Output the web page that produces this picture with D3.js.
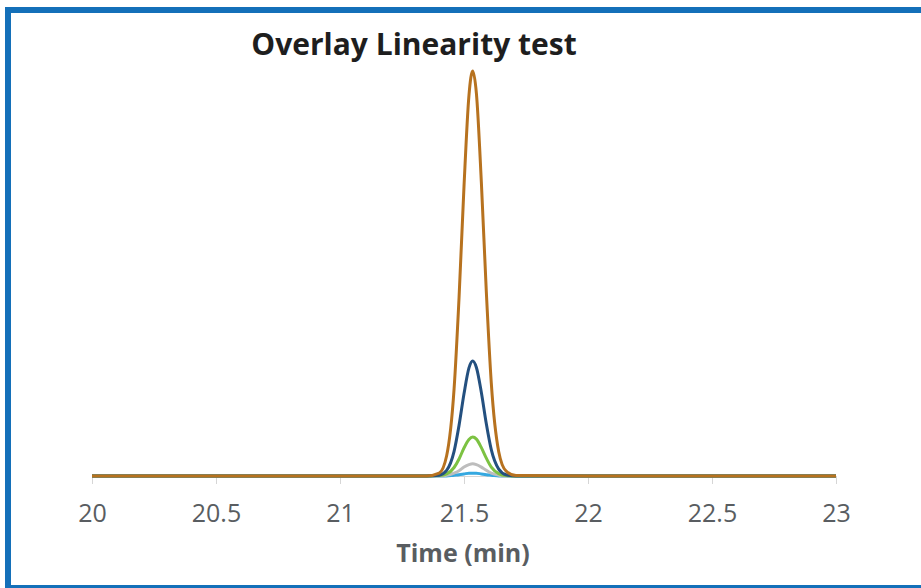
<html>
<head>
<meta charset="utf-8">
<style>
  body { margin: 0; background: white; }
  text { font-family: "Open Sans", sans-serif; }
</style>
</head>
<body>
<svg id="chart" width="921" height="588"></svg>

<script src="https://d3js.org/d3.v7.min.js"></script>
<script>
// retention time (min) sampled across the run
var time = [20, 21.0, 21.35, 21.40, 21.43, 21.46, 21.48, 21.50, 21.52, 21.535, 21.55, 21.57, 21.59, 21.61, 21.64, 21.67, 21.71, 22.0, 23];

// detector response for each concentration level
var level1 = [0, 0, 0, 0, 0, 2, 3, 5, 7, 7, 7, 5, 3, 2, 0, 0, 0, 0, 0];
var level2 = [0, 0, 0, 0, 2, 7, 13, 22, 28, 30, 28, 22, 14, 7, 2, 0, 0, 0, 0];
var level3 = [0, 0, 0, 1, 5, 21, 42, 69, 90, 96, 91, 70, 44, 22, 6, 1, 0, 0, 0];
var level4 = [0, 0, 0, 2, 14, 61, 125, 203, 267, 284, 268, 206, 129, 65, 17, 3, 0, 0, 0];
var level5 = [0, 0, 0, 7, 50, 215, 440, 715, 940, 1000, 945, 725, 455, 230, 60, 12, 1, 0, 0];

var seriesNames = ["level1", "level2", "level3", "level4", "level5"];
var seriesValues = [level1, level2, level3, level4, level5];
var seriesColors = ["#35a8e0", "#bdbdbd", "#7cc242", "#24507f", "#b7721f"];

var xTicks = [20, 20.5, 21, 21.5, 22, 22.5, 23];

var svg = d3.select("#chart");

// frame
svg.append("rect").attr("x", 5).attr("y", 7).attr("width", 6).attr("height", 581).attr("fill", "#1470b9");
svg.append("rect").attr("x", 5).attr("y", 7).attr("width", 916).attr("height", 6).attr("fill", "#1470b9");
svg.append("rect").attr("x", 5).attr("y", 585).attr("width", 916).attr("height", 3).attr("fill", "#1470b9");

var x = d3.scaleLinear().domain([20, 23]).range([92, 836]);
var y = d3.scaleLinear().domain([0, 1000]).range([476, 71]);

// axis
var xAxis = d3.axisBottom(x).tickValues(xTicks).tickFormat(d3.format("")).tickSize(8).tickPadding(20);
var gx = svg.append("g").attr("transform", "translate(0,476)").call(xAxis);
gx.select(".domain").attr("stroke", "#d6d6d6");
gx.selectAll(".tick line").attr("stroke", "#d6d6d6");
gx.selectAll(".tick text")
  .attr("fill", "#595d61")
  .style("font-size", "25px")
  .style("font-family", "'Open Sans', sans-serif");

svg.append("text")
  .attr("x", 463).attr("y", 562)
  .attr("text-anchor", "middle")
  .attr("fill", "#595d61")
  .style("font-size", "25px")
  .style("font-weight", "bold")
  .text("Time (min)");

svg.append("text")
  .attr("x", 414).attr("y", 55)
  .attr("text-anchor", "middle")
  .attr("fill", "#1e1e1e")
  .style("font-size", "30px")
  .style("font-weight", "bold")
  .text("Overlay Linearity test");

var line = d3.line()
  .x(function(d, i) { return x(time[i]); })
  .y(function(d) { return y(d); })
  .curve(d3.curveMonotoneX);

svg.selectAll(".trace")
  .data(seriesValues)
  .enter()
  .append("path")
  .attr("class", "trace")
  .attr("d", line)
  .attr("fill", "none")
  .attr("stroke", function(d, i) { return seriesColors[i]; })
  .attr("stroke-width", 3)
  .attr("stroke-linejoin", "round");
</script>
</body>
</html>
